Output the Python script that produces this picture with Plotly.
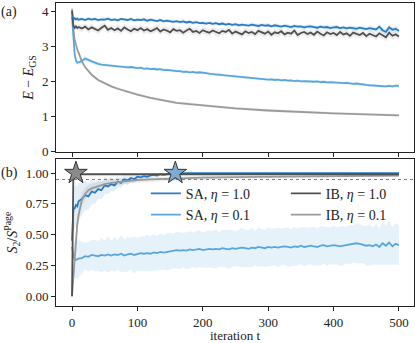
import plotly.graph_objects as go

# iteration grid for the noisy runs, and a coarser one for the smooth runs
t_noisy = [0, 1, 2, 3, 4, 6, 8, 10] + list(range(15, 505, 5))
t_smooth = [0, 1, 2, 3, 4, 6, 8, 10, 15, 20, 25, 30, 40, 50, 60, 70, 80, 90, 100,
            120, 140, 160, 180, 200, 250, 300, 350, 400, 450, 500]

# (a) energy above ground state
sa1_top = [3.85, 3.83, 3.80, 3.79, 3.81, 3.78, 3.80, 3.77,
           3.79, 3.76, 3.80, 3.77, 3.79, 3.76, 3.78, 3.77, 3.80, 3.76,
           3.78, 3.75, 3.79, 3.77, 3.76, 3.79, 3.75, 3.77, 3.76, 3.78,
           3.74, 3.77, 3.75, 3.73, 3.76, 3.72, 3.74, 3.73, 3.71, 3.73,
           3.70, 3.72, 3.69, 3.71, 3.68, 3.70, 3.67, 3.68, 3.66, 3.68,
           3.65, 3.67, 3.64, 3.66, 3.63, 3.65, 3.62, 3.64, 3.61, 3.63,
           3.62, 3.60, 3.63, 3.61, 3.59, 3.62, 3.60, 3.61, 3.58, 3.61,
           3.59, 3.57, 3.60, 3.58, 3.56, 3.59, 3.57, 3.58, 3.55, 3.57,
           3.58, 3.56, 3.54, 3.57, 3.55, 3.56, 3.53, 3.55, 3.56, 3.53,
           3.55, 3.52, 3.54, 3.53, 3.51, 3.54, 3.52, 3.50, 3.53, 3.51,
           3.49, 3.57, 3.47, 3.42, 3.55, 3.48, 3.51, 3.45]
sa1_top_sd = [0.03, 0.04, 0.05, 0.05, 0.05, 0.05, 0.05, 0.05,
              0.05, 0.06, 0.05, 0.05, 0.06, 0.05, 0.05, 0.06, 0.05, 0.05,
              0.05, 0.06, 0.05, 0.05, 0.05, 0.06, 0.05, 0.05, 0.06, 0.05,
              0.05, 0.05, 0.06, 0.05, 0.05, 0.06, 0.05, 0.05, 0.06, 0.05,
              0.05, 0.06, 0.05, 0.05, 0.06, 0.05, 0.05, 0.06, 0.05, 0.05,
              0.06, 0.05, 0.05, 0.06, 0.05, 0.06, 0.05, 0.05, 0.06, 0.05,
              0.05, 0.06, 0.07, 0.05, 0.06, 0.05, 0.06, 0.07, 0.05, 0.06,
              0.06, 0.05, 0.06, 0.07, 0.06, 0.05, 0.06, 0.06, 0.07, 0.06,
              0.06, 0.07, 0.06, 0.06, 0.07, 0.06, 0.07, 0.06, 0.07, 0.06,
              0.06, 0.07, 0.06, 0.07, 0.08, 0.06, 0.07, 0.06, 0.08, 0.07,
              0.07, 0.09, 0.08, 0.09, 0.08, 0.08, 0.09, 0.07]
ib1_top = [4.02, 3.64, 3.60, 3.57, 3.54, 3.58, 3.53, 3.56,
           3.52, 3.57, 3.49, 3.55, 3.50, 3.46, 3.54, 3.60, 3.48, 3.53,
           3.47, 3.52, 3.45, 3.55, 3.49, 3.44, 3.51, 3.47, 3.53, 3.46,
           3.50, 3.44, 3.48, 3.53, 3.43, 3.49, 3.46, 3.41, 3.50, 3.45,
           3.47, 3.40, 3.46, 3.51, 3.42, 3.45, 3.39, 3.47, 3.43, 3.40,
           3.46, 3.41, 3.38, 3.45, 3.42, 3.48, 3.37, 3.43, 3.40, 3.35,
           3.44, 3.39, 3.42, 3.36, 3.45, 3.40, 3.37, 3.43, 3.34, 3.41,
           3.38, 3.44, 3.35, 3.40, 3.37, 3.46, 3.33, 3.39, 3.42, 3.36,
           3.40, 3.34, 3.43, 3.37, 3.32, 3.41, 3.36, 3.39, 3.33, 3.42,
           3.35, 3.38, 3.31, 3.40, 3.36, 3.33, 3.39, 3.30, 3.37, 3.34,
           3.29, 3.38, 3.33, 3.27, 3.40, 3.31, 3.35, 3.29]
ib1_top_sd = [0.02, 0.06, 0.08, 0.09, 0.09, 0.10, 0.09, 0.10,
              0.10, 0.09, 0.11, 0.10, 0.09, 0.10, 0.11, 0.09, 0.10, 0.10,
              0.09, 0.11, 0.10, 0.10, 0.09, 0.11, 0.10, 0.09, 0.10, 0.11,
              0.10, 0.09, 0.10, 0.11, 0.10, 0.09, 0.11, 0.10, 0.10, 0.09,
              0.11, 0.10, 0.09, 0.10, 0.11, 0.10, 0.09, 0.11, 0.10, 0.10,
              0.09, 0.11, 0.10, 0.10, 0.09, 0.11, 0.10, 0.10, 0.11, 0.09,
              0.10, 0.11, 0.10, 0.09, 0.11, 0.10, 0.10, 0.11, 0.09, 0.10,
              0.11, 0.10, 0.09, 0.11, 0.10, 0.10, 0.11, 0.09, 0.10, 0.11,
              0.10, 0.09, 0.11, 0.10, 0.11, 0.10, 0.09, 0.11, 0.10, 0.10,
              0.11, 0.10, 0.10, 0.11, 0.09, 0.10, 0.11, 0.10, 0.11, 0.10,
              0.10, 0.11, 0.10, 0.12, 0.10, 0.11, 0.10, 0.10]
sa01_top = [3.85, 3.50, 3.21, 2.96, 2.79, 2.61, 2.54, 2.55,
            2.59, 2.66, 2.62, 2.57, 2.53, 2.51, 2.49, 2.48, 2.47, 2.45,
            2.45, 2.43, 2.44, 2.42, 2.41, 2.42, 2.40, 2.39, 2.40, 2.37,
            2.38, 2.36, 2.37, 2.35, 2.36, 2.33, 2.34, 2.32, 2.31, 2.30,
            2.30, 2.28, 2.29, 2.27, 2.28, 2.26, 2.27, 2.25, 2.24, 2.23,
            2.22, 2.21, 2.22, 2.19, 2.18, 2.17, 2.17, 2.15, 2.14, 2.13,
            2.13, 2.11, 2.12, 2.10, 2.09, 2.08, 2.08, 2.06, 2.07, 2.05,
            2.06, 2.04, 2.05, 2.03, 2.04, 2.02, 2.03, 2.01, 2.02, 2.01,
            2.02, 2.00, 2.01, 1.99, 2.00, 1.98, 1.99, 1.98, 1.97, 1.98,
            1.96, 1.97, 1.95, 1.94, 1.95, 1.93, 1.92, 1.91, 1.90, 1.89,
            1.88, 1.87, 1.86, 1.87, 1.88, 1.87, 1.89, 1.88]
sa01_top_sd = [0.02, 0.04, 0.05, 0.05, 0.06, 0.06, 0.06, 0.07,
               0.07, 0.08, 0.07, 0.06, 0.05, 0.05, 0.05, 0.04, 0.05, 0.04,
               0.04, 0.05, 0.04, 0.04, 0.05, 0.04, 0.04, 0.05, 0.04, 0.04,
               0.05, 0.04, 0.04, 0.05, 0.04, 0.04, 0.04, 0.05, 0.04, 0.04,
               0.04, 0.05, 0.04, 0.04, 0.04, 0.05, 0.04, 0.04, 0.05, 0.04,
               0.04, 0.04, 0.05, 0.04, 0.04, 0.04, 0.05, 0.04, 0.04, 0.04,
               0.05, 0.04, 0.04, 0.04, 0.05, 0.04, 0.04, 0.04, 0.05, 0.04,
               0.04, 0.04, 0.05, 0.04, 0.04, 0.04, 0.05, 0.04, 0.04, 0.05,
               0.04, 0.04, 0.04, 0.05, 0.04, 0.04, 0.04, 0.05, 0.04, 0.04,
               0.04, 0.05, 0.04, 0.04, 0.04, 0.05, 0.04, 0.04, 0.04, 0.05,
               0.04, 0.04, 0.05, 0.04, 0.04, 0.05, 0.04, 0.04]
ib01_top = [4.08, 3.75, 3.50, 3.33, 3.20, 3.02, 2.92, 2.83, 2.58, 2.42, 2.30, 2.20, 2.05, 1.95, 1.87,
            1.80, 1.74, 1.68, 1.63, 1.54, 1.46, 1.40, 1.36, 1.32, 1.24, 1.18, 1.13, 1.10, 1.07, 1.04]
ib01_top_sd = [0.01, 0.03, 0.04, 0.04, 0.04, 0.04, 0.04, 0.04, 0.04, 0.04, 0.04, 0.04, 0.04, 0.04, 0.04,
               0.04, 0.04, 0.04, 0.04, 0.04, 0.04, 0.04, 0.04, 0.04, 0.04, 0.04, 0.04, 0.04, 0.04, 0.04]

# (b) normalised second Renyi entropy
sa1_bot = [0.45, 0.62, 0.69, 0.72, 0.71, 0.74, 0.73, 0.77,
           0.79, 0.82, 0.81, 0.85, 0.84, 0.87, 0.86, 0.90, 0.89, 0.91,
           0.90, 0.93, 0.92, 0.95, 0.94, 0.96, 0.95, 0.97, 0.965, 0.975,
           0.97, 0.98, 0.985, 0.98, 0.99, 0.985, 0.99, 0.995, 1.0, 0.998,
           1.0, 0.998, 1.0, 0.999, 1.0, 1.0, 0.999, 1.0, 1.0, 0.999,
           1.0, 1.0, 0.999, 1.0, 1.0, 1.0, 0.999, 1.0, 1.0, 1.0,
           1.0, 0.999, 1.0, 1.0, 1.0, 0.999, 1.0, 1.0, 1.0, 1.0,
           0.999, 1.0, 1.0, 1.0, 1.0, 0.999, 1.0, 1.0, 1.0, 1.0,
           1.0, 0.999, 1.0, 1.0, 1.0, 1.0, 0.999, 1.0, 1.0, 1.0,
           1.0, 1.0, 0.999, 1.0, 1.0, 1.0, 1.0, 0.999, 1.0, 1.0,
           1.0, 1.0, 1.0, 0.999, 1.0, 1.0, 1.0, 1.0]
sa1_bot_sd = [0.08, 0.15, 0.17, 0.17, 0.17, 0.17, 0.16, 0.15,
              0.13, 0.12, 0.11, 0.10, 0.09, 0.08, 0.07, 0.07, 0.06, 0.06,
              0.05, 0.05, 0.04, 0.04, 0.04, 0.03, 0.03, 0.03, 0.02, 0.02,
              0.02, 0.02, 0.015, 0.015, 0.01, 0.01, 0.01, 0.01, 0.005, 0.005,
              0.005, 0.005, 0.005, 0.005, 0.005, 0.005, 0.005, 0.005, 0.005, 0.005,
              0.005, 0.005, 0.005, 0.005, 0.005, 0.005, 0.005, 0.005, 0.005, 0.005,
              0.005, 0.005, 0.005, 0.005, 0.005, 0.005, 0.005, 0.005, 0.005, 0.005,
              0.005, 0.005, 0.005, 0.005, 0.005, 0.005, 0.005, 0.005, 0.005, 0.005,
              0.005, 0.005, 0.005, 0.005, 0.005, 0.005, 0.005, 0.005, 0.005, 0.005,
              0.005, 0.005, 0.005, 0.005, 0.005, 0.005, 0.005, 0.005, 0.005, 0.005,
              0.005, 0.005, 0.005, 0.005, 0.005, 0.005, 0.005, 0.005]
ib1_bot = [0.0, 0.55, 0.97, 0.99, 0.99, 0.99, 0.99, 0.99, 0.99, 0.99, 0.99, 0.99, 0.99, 0.99, 0.99,
           0.99, 0.99, 0.99, 0.99, 0.99, 0.99, 0.99, 0.99, 0.99, 0.99, 0.99, 0.99, 0.99, 0.99, 0.99]
sa01_bot = [0.40, 0.36, 0.33, 0.31, 0.30, 0.295, 0.30, 0.305,
            0.31, 0.325, 0.32, 0.335, 0.33, 0.325, 0.335, 0.33, 0.34, 0.33,
            0.34, 0.335, 0.345, 0.33, 0.34, 0.345, 0.335, 0.34, 0.35, 0.345,
            0.35, 0.345, 0.355, 0.35, 0.36, 0.355, 0.36, 0.365, 0.37, 0.375,
            0.37, 0.375, 0.37, 0.38, 0.375, 0.38, 0.385, 0.375, 0.38, 0.385,
            0.38, 0.385, 0.38, 0.39, 0.385, 0.38, 0.39, 0.385, 0.39, 0.395,
            0.39, 0.385, 0.395, 0.39, 0.40, 0.395, 0.39, 0.40, 0.395, 0.40,
            0.395, 0.40, 0.405, 0.40, 0.395, 0.405, 0.40, 0.41, 0.40, 0.405,
            0.41, 0.405, 0.40, 0.41, 0.415, 0.405, 0.41, 0.415, 0.41, 0.405,
            0.41, 0.415, 0.42, 0.425, 0.43, 0.425, 0.42, 0.41, 0.415, 0.405,
            0.42, 0.40, 0.43, 0.41, 0.435, 0.405, 0.425, 0.415]
sa01_bot_sd = [0.05, 0.09, 0.12, 0.14, 0.15, 0.15, 0.16, 0.16,
               0.13, 0.11, 0.12, 0.12, 0.13, 0.12, 0.14, 0.12, 0.15, 0.12,
               0.14, 0.12, 0.15, 0.13, 0.14, 0.13, 0.15, 0.13, 0.14, 0.14,
               0.15, 0.14, 0.15, 0.14, 0.15, 0.14, 0.15, 0.15, 0.14, 0.15,
               0.15, 0.14, 0.15, 0.15, 0.14, 0.15, 0.15, 0.14, 0.15, 0.15,
               0.15, 0.16, 0.14, 0.15, 0.15, 0.16, 0.15, 0.14, 0.15, 0.16,
               0.15, 0.15, 0.16, 0.14, 0.16, 0.15, 0.15, 0.16, 0.15, 0.15,
               0.16, 0.15, 0.15, 0.16, 0.15, 0.16, 0.15, 0.15, 0.16, 0.15,
               0.15, 0.16, 0.15, 0.16, 0.15, 0.16, 0.15, 0.16, 0.15, 0.16,
               0.16, 0.15, 0.16, 0.15, 0.16, 0.16, 0.15, 0.16, 0.17, 0.15,
               0.17, 0.15, 0.18, 0.16, 0.18, 0.15, 0.17, 0.16]
ib01_bot = [0.0, 0.08, 0.17, 0.26, 0.34, 0.47, 0.58, 0.66, 0.78, 0.83, 0.86, 0.875, 0.895, 0.91, 0.92,
            0.927, 0.933, 0.938, 0.943, 0.948, 0.953, 0.957, 0.96, 0.963, 0.967, 0.97, 0.973, 0.975, 0.977, 0.979]
ib01_bot_sd = [0.0, 0.04, 0.06, 0.07, 0.08, 0.08, 0.08, 0.07, 0.06, 0.05, 0.045, 0.04, 0.035, 0.03, 0.03,
               0.025, 0.025, 0.02, 0.02, 0.02, 0.02, 0.015, 0.015, 0.015, 0.01, 0.01, 0.01, 0.01, 0.01, 0.01]

page_ratio = 0.948
star_ib = (6, 1.0)
star_sa = (158, 1.0)

for a, b in [(sa1_top, sa1_top_sd), (ib1_top, ib1_top_sd), (sa01_top, sa01_top_sd),
             (sa1_bot, sa1_bot_sd), (sa01_bot, sa01_bot_sd)]:
    assert len(a) == len(b) == len(t_noisy), (len(a), len(b))
for a in [ib01_top, ib01_top_sd, ib1_bot, ib01_bot, ib01_bot_sd]:
    assert len(a) == len(t_smooth), len(a)

C_SA1 = "#2a7bc4"
C_SA01 = "#5aa6dc"
C_IB1 = "#505050"
C_IB01 = "#9a9a9a"
FONT = "'Liberation Serif', 'DejaVu Serif', serif"
INK = "#222222"


def band(x, y, sd, fill, xa, ya):
    up = [v + s for v, s in zip(y, sd)]
    lo = [v - s for v, s in zip(y, sd)]
    return go.Scatter(x=list(x) + list(x)[::-1], y=up + lo[::-1], fill="toself",
                      fillcolor=fill, line=dict(width=0), mode="lines",
                      hoverinfo="skip", showlegend=False, xaxis=xa, yaxis=ya)


def line(x, y, color, name, xa, ya, legend=None):
    return go.Scatter(x=x, y=y, mode="lines", line=dict(color=color, width=1.8),
                      name=name, showlegend=legend is not None, legend=legend or "legend",
                      xaxis=xa, yaxis=ya)


fig = go.Figure()

# panel (a)
fig.add_trace(band(t_smooth, ib01_top, ib01_top_sd, "rgba(150,150,150,0.15)", "x", "y"))
fig.add_trace(band(t_noisy, sa01_top, sa01_top_sd, "rgba(90,166,220,0.15)", "x", "y"))
fig.add_trace(band(t_noisy, ib1_top, ib1_top_sd, "rgba(80,80,80,0.10)", "x", "y"))
fig.add_trace(band(t_noisy, sa1_top, sa1_top_sd, "rgba(42,123,196,0.13)", "x", "y"))
fig.add_trace(line(t_smooth, ib01_top, C_IB01, "IB, η = 0.1", "x", "y"))
fig.add_trace(line(t_noisy, sa01_top, C_SA01, "SA, η = 0.1", "x", "y"))
fig.add_trace(line(t_noisy, ib1_top, C_IB1, "IB, η = 1.0", "x", "y"))
fig.add_trace(line(t_noisy, sa1_top, C_SA1, "SA, η = 1.0", "x", "y"))

# panel (b): SA runs go in the left legend column, IB runs in the right one
fig.add_trace(band(t_noisy, sa01_bot, sa01_bot_sd, "rgba(90,166,220,0.15)", "x2", "y2"))
fig.add_trace(band(t_noisy, sa1_bot, sa1_bot_sd, "rgba(42,123,196,0.13)", "x2", "y2"))
fig.add_trace(band(t_smooth, ib01_bot, ib01_bot_sd, "rgba(150,150,150,0.18)", "x2", "y2"))
fig.add_trace(line(t_noisy, sa1_bot, C_SA1, "SA, <i>η</i> = 1.0", "x2", "y2", "legend"))
fig.add_trace(line(t_noisy, sa01_bot, C_SA01, "SA, <i>η</i> = 0.1", "x2", "y2", "legend"))
fig.add_trace(line(t_smooth, ib01_bot, C_IB01, "IB, <i>η</i> = 0.1", "x2", "y2", "legend2"))
fig.add_trace(line(t_smooth, ib1_bot, C_IB1, "IB, <i>η</i> = 1.0", "x2", "y2", "legend2"))

fig.add_trace(go.Scatter(x=[star_ib[0]], y=[star_ib[1]], mode="markers", showlegend=False,
                         marker=dict(symbol="star", size=17, color="#8a8a8a",
                                     line=dict(color="#333333", width=1)), xaxis="x2", yaxis="y2"))
fig.add_trace(go.Scatter(x=[star_sa[0]], y=[star_sa[1]], mode="markers", showlegend=False,
                         marker=dict(symbol="star", size=17, color="#7ea9d2",
                                     line=dict(color="#333333", width=1)), xaxis="x2", yaxis="y2"))

fig.add_shape(type="line", xref="x2 domain", yref="y2", x0=0, x1=1, y0=page_ratio, y1=page_ratio,
              line=dict(color="#777777", width=1, dash="dot"), layer="below")

axis_common = dict(showline=True, mirror=True, linecolor=INK, linewidth=1, ticks="outside",
                   ticklen=4, tickcolor=INK, showgrid=False, zeroline=False,
                   tickfont=dict(family=FONT, size=13, color=INK))
legend_common = dict(orientation="v", yanchor="top", xanchor="left", itemwidth=30,
                     bgcolor="rgba(0,0,0,0)", tracegroupgap=0,
                     font=dict(family=FONT, size=14, color=INK))
xr = [-24.5, 523]
fig.update_layout(
    width=415, height=343,
    margin=dict(l=56, r=1, t=3, b=37),
    paper_bgcolor="white", plot_bgcolor="white",
    font=dict(family=FONT, size=13, color=INK),
    xaxis=dict(axis_common, domain=[0, 1], anchor="y", range=xr,
               tickvals=[0, 100, 200, 300, 400, 500], showticklabels=False),
    yaxis=dict(axis_common, domain=[0.508, 1], anchor="x", range=[-0.005, 4.245],
               tickvals=[0, 1, 2, 3, 4], automargin=True,
               title=dict(text="<i>E</i> − <i>E</i><sub>GS</sub>", standoff=4,
                          font=dict(family=FONT, size=14, color=INK))),
    xaxis2=dict(axis_common, domain=[0, 1], anchor="y2", range=xr,
                tickvals=[0, 100, 200, 300, 400, 500],
                title=dict(text="iteration t", standoff=4, font=dict(family=FONT, size=13, color=INK))),
    yaxis2=dict(axis_common, domain=[0, 0.484], anchor="x2", range=[-0.079, 1.111],
                tickvals=[0, 0.25, 0.5, 0.75, 1.0], tickformat=".2f", automargin=True,
                title=dict(text="<i>S</i><sub>2</sub>/<i>S</i><sup>Page</sup>", standoff=4,
                           font=dict(family=FONT, size=14, color=INK))),
    legend=dict(legend_common, x=0.251, y=0.423, traceorder="normal"),
    legend2=dict(legend_common, x=0.642, y=0.423, traceorder="reversed"),
    annotations=[
        dict(text="(a)", xref="paper", yref="paper", x=-0.158, y=0.969, xanchor="left",
             yanchor="middle", showarrow=False, font=dict(family=FONT, size=14, color=INK)),
        dict(text="(b)", xref="paper", yref="paper", x=-0.158, y=0.439, xanchor="left",
             yanchor="middle", showarrow=False, font=dict(family=FONT, size=14, color=INK)),
    ],
)

# the page's default body margin would push the fixed-size figure off the window
fig.write_html("out.html", config={"displayModeBar": False},
               post_script="document.body.style.margin='0';")
